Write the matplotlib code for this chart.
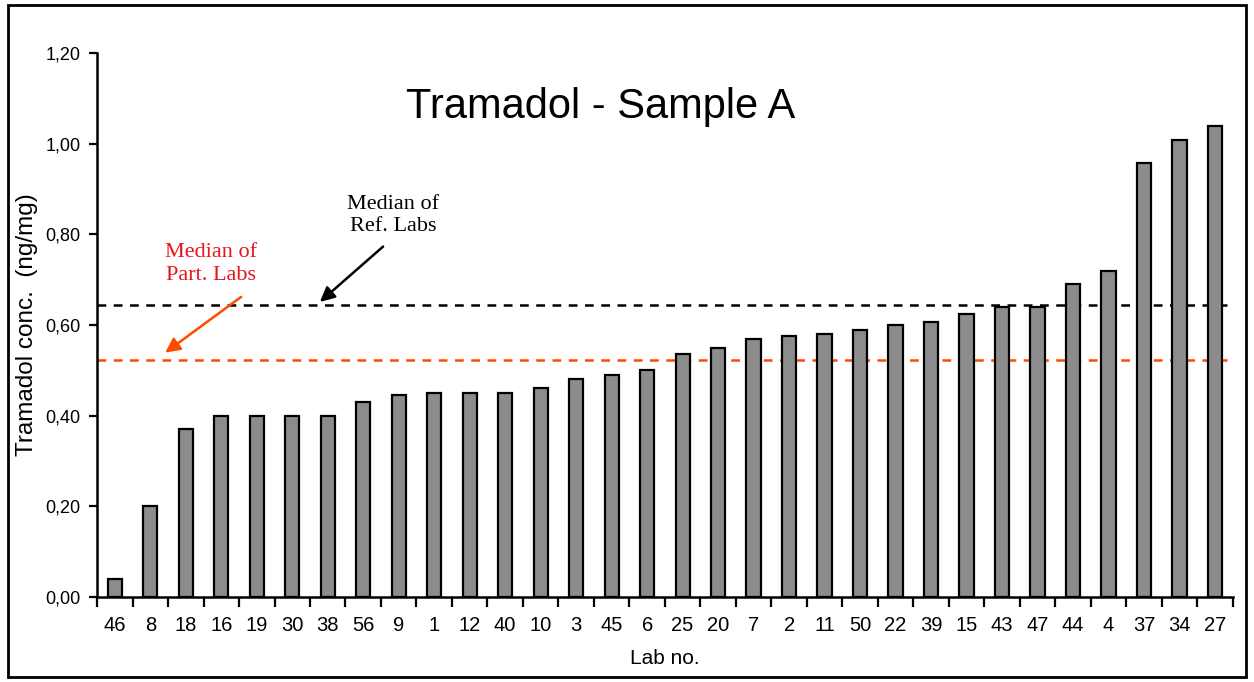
import matplotlib
matplotlib.use('Agg')
import matplotlib.pyplot as plt
from matplotlib.patches import Rectangle
from matplotlib.ticker import FixedLocator, FuncFormatter

# lab numbers in plotted order and their measured concentrations
labs = ['46', '8', '18', '16', '19', '30', '38', '56', '9', '1', '12', '40', '10', '3', '45', '6',
        '25', '20', '7', '2', '11', '50', '22', '39', '15', '43', '47', '44', '4', '37', '34', '27']
conc = [0.04, 0.20, 0.37, 0.40, 0.40, 0.40, 0.40, 0.43, 0.445, 0.45, 0.45, 0.45, 0.46, 0.48, 0.49, 0.50,
        0.535, 0.55, 0.57, 0.575, 0.58, 0.59, 0.60, 0.607, 0.625, 0.64, 0.64, 0.69, 0.72, 0.957, 1.008, 1.04]
median_ref = 0.645
median_part = 0.522
yticks = [0.0, 0.2, 0.4, 0.6, 0.8, 1.0, 1.2]

sans = ['Liberation Sans Narrow', 'Liberation Sans', 'DejaVu Sans']
serif = ['Liberation Serif', 'DejaVu Serif']

fig = plt.figure(figsize=(12.54, 6.82), dpi=100)
ax = fig.add_axes([0.0774, 0.1246, 0.9056, 0.7977])

x = list(range(len(labs)))
ax.bar(x, conc, width=0.4, color='#8c8c8c', edgecolor='black', linewidth=1.6, zorder=3)

ax.axhline(median_ref, color='black', linestyle=(0, (3.5, 3)), linewidth=1.8, zorder=2)
ax.axhline(median_part, color='#ff4a00', linestyle=(0, (3.5, 3)), linewidth=1.8, zorder=2)

ax.set_xlim(-0.5, len(labs) - 0.5)
ax.set_ylim(0, 1.2)
ax.spines['top'].set_visible(False)
ax.spines['right'].set_visible(False)
ax.spines['left'].set_linewidth(1.8)
ax.spines['bottom'].set_linewidth(1.8)

ax.set_yticks(yticks)
ax.yaxis.set_major_formatter(FuncFormatter(lambda v, p: ('%.2f' % v).replace('.', ',')))
ax.tick_params(axis='y', direction='out', length=6, width=1.6, labelsize=13, pad=6)
for lab in ax.get_yticklabels():
    lab.set_family(sans)

# ticks sit between the bars, labels under bars
ax.xaxis.set_major_locator(FixedLocator([i - 0.5 for i in range(len(labs) + 1)]))
ax.xaxis.set_major_formatter(FuncFormatter(lambda v, p: ''))
ax.tick_params(axis='x', which='major', direction='out', length=7, width=1.6)
ax.set_xticks(x, minor=True)
ax.set_xticklabels(labs, minor=True, family=sans, fontsize=14.5)
ax.tick_params(axis='x', which='minor', length=0, pad=14)

ax.set_xlabel('Lab no.', family=sans, fontsize=15, labelpad=10)
ax.set_ylabel('Tramadol conc.  (ng/mg)', family=sans, fontsize=17.5, labelpad=5)

fig.text(0.479, 0.843, 'Tramadol - Sample A', family=sans, fontsize=30, ha='center', va='center')

ax.text(7.84, 0.841, 'Median of\nRef. Labs', family=serif, fontsize=16, color='black',
        ha='center', va='center', linespacing=1.25)
ax.annotate('', xy=(5.78, 0.651), xytext=(7.56, 0.773),
            arrowprops=dict(arrowstyle='-|>', color='black', lw=1.8, mutation_scale=22,
                            shrinkA=0, shrinkB=0))
ax.text(2.71, 0.735, 'Median of\nPart. Labs', family=serif, fontsize=16, color='#e8141c',
        ha='center', va='center', linespacing=1.25)
ax.annotate('', xy=(1.42, 0.539), xytext=(3.56, 0.662),
            arrowprops=dict(arrowstyle='-|>', color='#ff4a00', lw=1.8, mutation_scale=22,
                            shrinkA=0, shrinkB=0))

fig.patches.append(Rectangle((0.006, 0.007), 0.988, 0.985, transform=fig.transFigure,
                             fill=False, edgecolor='black', linewidth=2))

fig.savefig('out.png', dpi=100)
